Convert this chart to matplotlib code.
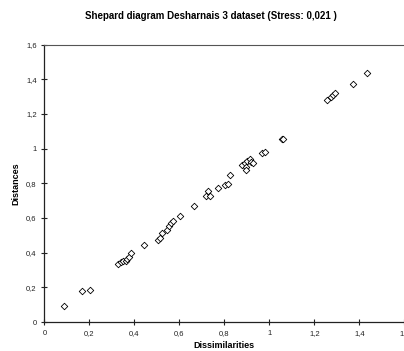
import matplotlib
matplotlib.use("Agg")
import matplotlib.pyplot as plt
from matplotlib.ticker import FuncFormatter

# values
dissimilarities = [0.089, 0.169, 0.204,
                   0.328, 0.340, 0.351, 0.362, 0.369, 0.376, 0.387,
                   0.442,
                   0.507, 0.516, 0.524, 0.547, 0.556, 0.564, 0.571,
                   0.604, 0.665,
                   0.719, 0.726, 0.738, 0.771,
                   0.804, 0.816, 0.824,
                   0.880, 0.892, 0.900, 0.895, 0.896, 0.916, 0.919, 0.926,
                   0.968, 0.982, 1.058, 1.061,
                   1.258, 1.273, 1.284, 1.293, 1.373, 1.433]
distances = [0.094, 0.177, 0.185,
             0.335, 0.347, 0.351, 0.351, 0.362, 0.377, 0.397,
             0.447,
             0.472, 0.484, 0.516, 0.532, 0.551, 0.571, 0.582,
             0.613, 0.669,
             0.728, 0.757, 0.728, 0.775,
             0.790, 0.798, 0.848,
             0.908, 0.917, 0.929, 0.892, 0.875, 0.942, 0.925, 0.919,
             0.975, 0.981, 1.056, 1.058,
             1.279, 1.299, 1.310, 1.322, 1.374, 1.438]

ticks = [0, 0.2, 0.4, 0.6, 0.8, 1.0, 1.2, 1.4, 1.6]


def comma(v, pos):
    s = f"{v:.1f}".rstrip("0").rstrip(".")
    return s.replace(".", ",")


plt.rcParams["font.family"] = ["Liberation Sans", "DejaVu Sans"]

fig = plt.figure(figsize=(4.04, 3.51), dpi=100)
ax = fig.add_axes([0.1097, 0.0826, 0.8910, 0.7904])

ax.scatter(dissimilarities, distances, marker="D", s=11, facecolors="white",
           edgecolors="black", linewidths=0.6, zorder=3)

ax.set_xlim(0, 1.6)
ax.set_ylim(0, 1.6)
ax.set_xticks(ticks)
ax.set_yticks(ticks)
ax.xaxis.set_major_formatter(FuncFormatter(comma))
ax.yaxis.set_major_formatter(FuncFormatter(comma))
ax.tick_params(direction="inout", length=5, width=0.8, labelsize=5.5,
               pad=3, colors="#222222")

for side in ("left", "bottom"):
    ax.spines[side].set_color("#222222")
    ax.spines[side].set_linewidth(0.9)
ax.spines["top"].set_color("#555555")
ax.spines["top"].set_linewidth(0.8)
ax.spines["right"].set_visible(False)

ax.set_xlabel("Dissimilarities", fontsize=6.5, fontweight="bold", labelpad=3)
ax.set_ylabel("Distances", fontsize=6.5, fontweight="bold", labelpad=4)
fig.text(0.522, 0.953, "Shepard diagram Desharnais 3 dataset (Stress: 0,021 )",
         ha="center", va="center", fontsize=7, fontweight="bold")

fig.savefig("out.png", dpi=100)
